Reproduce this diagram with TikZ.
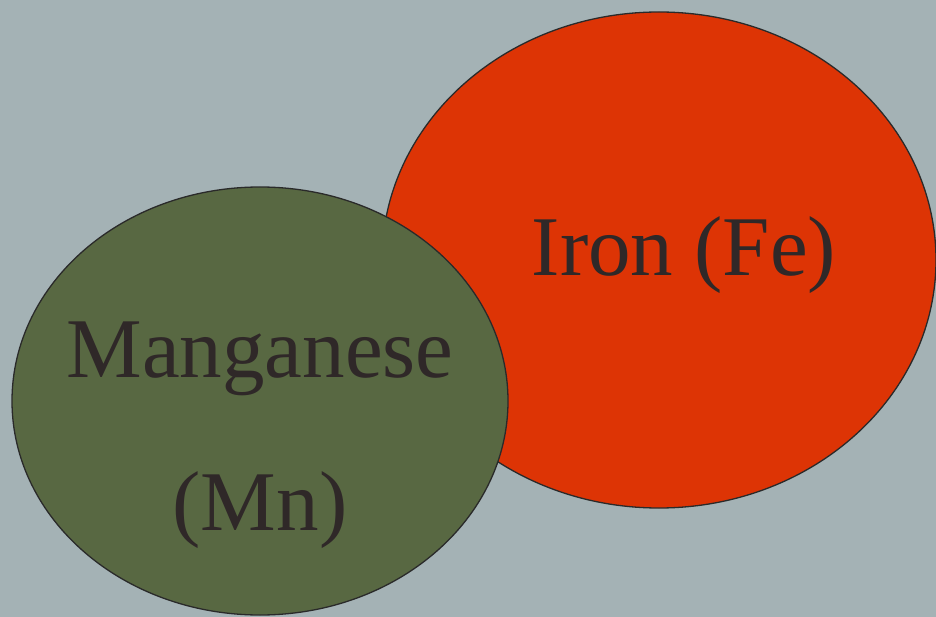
\documentclass[tikz,border=0pt]{standalone}
\usepackage{fontspec}
\setmainfont{Liberation Serif}
\usetikzlibrary{shapes.geometric}
\definecolor{bg}{HTML}{A4B2B5}
\definecolor{ironred}{HTML}{DD3405}
\definecolor{mngreen}{HTML}{586842}
\definecolor{txt}{HTML}{2F2828}
\definecolor{edge}{HTML}{2A2A2A}
\tikzset{
  blob/.style={ellipse, draw=edge, line width=1.3pt, inner sep=0pt},
  label/.style={text=txt, font=\fontsize{85}{100}\selectfont, anchor=base, inner sep=0pt}
}
\begin{document}
\begin{tikzpicture}[x=1pt,y=-1pt]
\fill[bg] (0,0) rectangle (936,617);
\useasboundingbox (0,0) rectangle (936,617);
\clip (0,0) rectangle (936,617);
\node[blob, fill=ironred, minimum width=554pt, minimum height=496pt] (fe) at (659,260) {};
\node[blob, fill=mngreen, minimum width=496pt, minimum height=428pt] (mn) at (260,401) {};
\node[label] (fetext) at (684,276) {Iron (Fe)};
\node[label] (mntext1) at (260,377) {Manganese};
\node[label] (mntext2) at (260,530) {(Mn)};
\end{tikzpicture}
\end{document}
